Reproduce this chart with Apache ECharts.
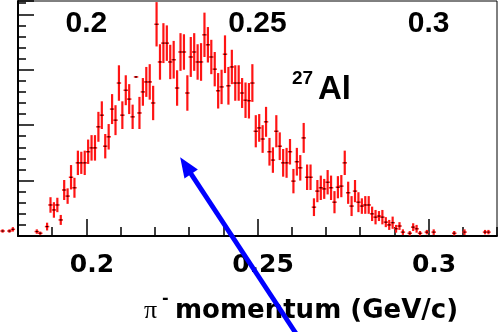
<!DOCTYPE html>
<html>
<head>
<meta charset="utf-8">
<script src="https://cdn.jsdelivr.net/npm/echarts@6/dist/echarts.min.js"></script>
<style>
  html, body { margin: 0; padding: 0; background: #fff; }
  #chart { width: 500px; height: 332px; }
</style>
</head>
<body>
<div id="chart"></div>
<script>
// bin centres (GeV/c), counts and errors
const momentum = [
  0.1755, 0.1775, 0.1785, 0.1855, 0.1865,
  0.1885, 0.1895, 0.1905, 0.1915, 0.1925, 0.1935, 0.1945, 0.1955, 0.1965, 0.1975,
  0.1985, 0.1995, 0.2005, 0.2015, 0.2025, 0.2035, 0.2045, 0.2055, 0.2065, 0.2075,
  0.2085, 0.2095, 0.2105, 0.2115, 0.2125, 0.2135, 0.2145, 0.2155, 0.2165, 0.2175,
  0.2185, 0.2195, 0.2205, 0.2215, 0.2225, 0.2235, 0.2245, 0.2255, 0.2265, 0.2275,
  0.2285, 0.2295, 0.2305, 0.2315, 0.2325, 0.2335, 0.2345, 0.2355, 0.2365, 0.2375,
  0.2385, 0.2395, 0.2405, 0.2415, 0.2425, 0.2435, 0.2445, 0.2455, 0.2465, 0.2475,
  0.2485, 0.2495, 0.2505, 0.2515, 0.2525, 0.2535, 0.2545, 0.2555, 0.2565, 0.2575,
  0.2585, 0.2595, 0.2605, 0.2615, 0.2625, 0.2635, 0.2645, 0.2655, 0.2665, 0.2675,
  0.2685, 0.2695, 0.2705, 0.2715, 0.2725, 0.2735, 0.2745, 0.2755, 0.2765, 0.2775,
  0.2785, 0.2795, 0.2805, 0.2815, 0.2825, 0.2835, 0.2845, 0.2855, 0.2865, 0.2875,
  0.2885, 0.2895, 0.2905, 0.2915, 0.2925,
  0.2945, 0.2955, 0.2965, 0.2975, 0.2995, 0.3015, 0.3075, 0.3105, 0.3165, 0.3175
];
const counts = [
  9, 9, 12, 8, 5,
  17, 56, 47, 56, 29, 83, 72, 106, 87, 132,
  132, 132, 152, 159, 159, 197, 218, 162, 179, 229,
  209, 276, 218, 263, 247, 215, 287, 222, 260, 278,
  278, 240, 382, 314, 348, 348, 314, 318, 267, 332,
  332, 258, 323, 332, 314, 314, 363, 345, 323, 301,
  262, 269, 328, 271, 305, 276, 276, 258, 245, 244,
  276, 189, 195, 175, 206, 152, 137, 189, 162, 132,
  132, 152, 99, 134, 123, 177, 106, 106, 52, 81,
  87, 85, 97, 87, 61, 88, 90, 132, 78, 54,
  81, 61, 54, 56, 56, 40, 34, 36, 34, 25,
  20, 24, 13, 18, 7,
  5, 16, 13, 5, 7, 7, 5, 7, 7, 7
];
const errors = [
  3, 3, 4, 4, 3,
  7, 14, 14, 13, 9, 18, 14, 22, 18, 22,
  20, 22, 22, 23, 23, 27, 25, 22, 23, 27,
  27, 32, 25, 27, 27, 22, 1, 29, 25, 27,
  32, 31, 40, 32, 36, 32, 31, 34, 32, 34,
  32, 32, 36, 34, 32, 34, 40, 32, 31, 31,
  32, 31, 34, 34, 31, 32, 32, 27, 32, 32,
  34, 29, 25, 25, 27, 25, 23, 29, 25, 25,
  27, 23, 22, 25, 23, 27, 23, 23, 16, 20,
  22, 18, 22, 22, 20, 20, 20, 22, 20, 18,
  20, 18, 14, 16, 16, 13, 13, 9, 13, 9,
  9, 11, 7, 7, 5,
  4, 7, 7, 4, 4, 5, 4, 5, 4, 4
];
const majorTicks = [0.2, 0.25, 0.3];
const xRange = [0.18, 0.32];
const yRange = [0, 424];
const binWidth = 0.001;
// arrow annotation in data coordinates: [tail, tip]
const arrowTail = [0.2635, -197];
const arrowTip = [0.2274, 142];

const chart = echarts.init(document.getElementById('chart'));

function renderItem(params, api) {
  const x = api.value(0);
  const y = api.value(1);
  const e = api.value(2);
  const c = api.coord([x, y]);
  const top = api.coord([x, y + e]);
  const bot = api.coord([x, y - e]);
  const half = api.size([binWidth, 0])[0] / 2 + 0.5;
  return {
    type: 'group',
    children: [
      { type: 'line', shape: { x1: c[0], y1: top[1], x2: c[0], y2: bot[1] },
        style: { stroke: '#ff1414', lineWidth: 2.2 } },
      { type: 'line', shape: { x1: c[0] - half, y1: c[1], x2: c[0] + half, y2: c[1] },
        style: { stroke: '#ff1414', lineWidth: 1.5 } },
      { type: 'rect', shape: { x: c[0] - 1, y: c[1] - 0.6, width: 2, height: 1.2 },
        style: { fill: '#200000' } }
    ]
  };
}

const option = {
  backgroundColor: '#fff',
  animation: false,
  grid: {
    left: 18, right: 3, top: 1, bottom: 96,
    show: true, borderColor: '#000', borderWidth: 1
  },
  xAxis: [
    {
      type: 'value', position: 'bottom', min: xRange[0], max: xRange[1],
      axisLine: { lineStyle: { color: '#000', width: 2 } },
      axisTick: { inside: true, length: 17, customValues: majorTicks,
        lineStyle: { color: '#000', width: 1.5 } },
      axisLabel: {
        customValues: majorTicks, margin: 17, padding: [0, 0, 0, 11],
        color: '#000', fontSize: 25, fontWeight: 'bold', fontFamily: 'DejaVu Sans'
      },
      splitLine: { show: false }
    },
    {
      type: 'value', position: 'bottom', min: xRange[0], max: xRange[1], interval: 0.01,
      axisLine: { show: false },
      axisTick: { inside: true, length: 9, lineStyle: { color: '#000', width: 1.5 } },
      axisLabel: { show: false },
      splitLine: { show: false }
    },
    {
      type: 'value', position: 'top', min: xRange[0], max: xRange[1],
      axisLine: { show: false },
      axisTick: { show: false },
      axisLabel: {
        inside: true, customValues: majorTicks, margin: 8,
        color: '#000', fontSize: 30, fontWeight: 'bold', fontFamily: 'Liberation Sans'
      },
      splitLine: { show: false }
    }
  ],
  yAxis: [
    {
      type: 'value', min: yRange[0], max: yRange[1], interval: 100,
      axisLine: { show: true, lineStyle: { color: '#000', width: 2 } },
      axisTick: { show: true, inside: true, length: 16, lineStyle: { color: '#000', width: 1.5 } },
      axisLabel: { show: false },
      splitLine: { show: false }
    },
    {
      type: 'value', position: 'left', min: yRange[0], max: yRange[1], interval: 20,
      axisLine: { show: false },
      axisTick: { show: true, inside: true, length: 8, lineStyle: { color: '#000', width: 1.5 } },
      axisLabel: { show: false },
      splitLine: { show: false }
    }
  ],
  graphic: [
    { id: 'a27', type: 'text', x: 292, y: 69,
      style: { text: '27', fill: '#000', font: 'bold 19px "Liberation Sans"', verticalAlign: 'top' } },
    { id: 'al', type: 'text', x: 318, y: 73,
      style: { text: 'Al', fill: '#000', font: 'bold 33px "Liberation Sans"', verticalAlign: 'top' } },
    { id: 'pi', type: 'text', x: 144, y: 311,
      style: { text: 'π', fill: '#000', font: '26px "Liberation Serif"', verticalAlign: 'middle' } },
    { id: 'minus', type: 'text', x: 162, y: 299,
      style: { text: '-', fill: '#000', font: 'bold 16px "DejaVu Sans"', verticalAlign: 'middle' } },
    { id: 'xtitle', type: 'text', x: 175, y: 311,
      style: { text: 'momentum (GeV/c)', fill: '#000', font: 'bold 26px "DejaVu Sans"', verticalAlign: 'middle' } }
  ],
  series: [
    {
      type: 'custom',
      xAxisIndex: 0,
      yAxisIndex: 0,
      clip: false,
      renderItem: renderItem,
      data: momentum.map((m, i) => [m, counts[i], errors[i]]),
      z: 5
    }
  ]
};

chart.setOption(option);

// blue arrow pointing at the distribution
const p1 = chart.convertToPixel({ xAxisIndex: 0, yAxisIndex: 0 }, arrowTail);
const p2 = chart.convertToPixel({ xAxisIndex: 0, yAxisIndex: 0 }, arrowTip);
const dx = p2[0] - p1[0], dy = p2[1] - p1[1];
const len = Math.sqrt(dx * dx + dy * dy);
const ux = dx / len, uy = dy / len;
const headLen = 20, headHalf = 8;
const bx = p2[0] - ux * headLen, by = p2[1] - uy * headLen;
chart.setOption({
  graphic: [
    { id: 'arrowLine', type: 'line', z: 10,
      shape: { x1: p1[0], y1: p1[1], x2: bx + ux * 2, y2: by + uy * 2 },
      style: { stroke: '#0000ff', lineWidth: 4.8 } },
    { id: 'arrowHead', type: 'polygon', z: 10,
      shape: { points: [[p2[0], p2[1]], [bx - uy * headHalf, by + ux * headHalf], [bx + uy * headHalf, by - ux * headHalf]] },
      style: { fill: '#0000ff' } }
  ]
});
</script>
</body>
</html>
